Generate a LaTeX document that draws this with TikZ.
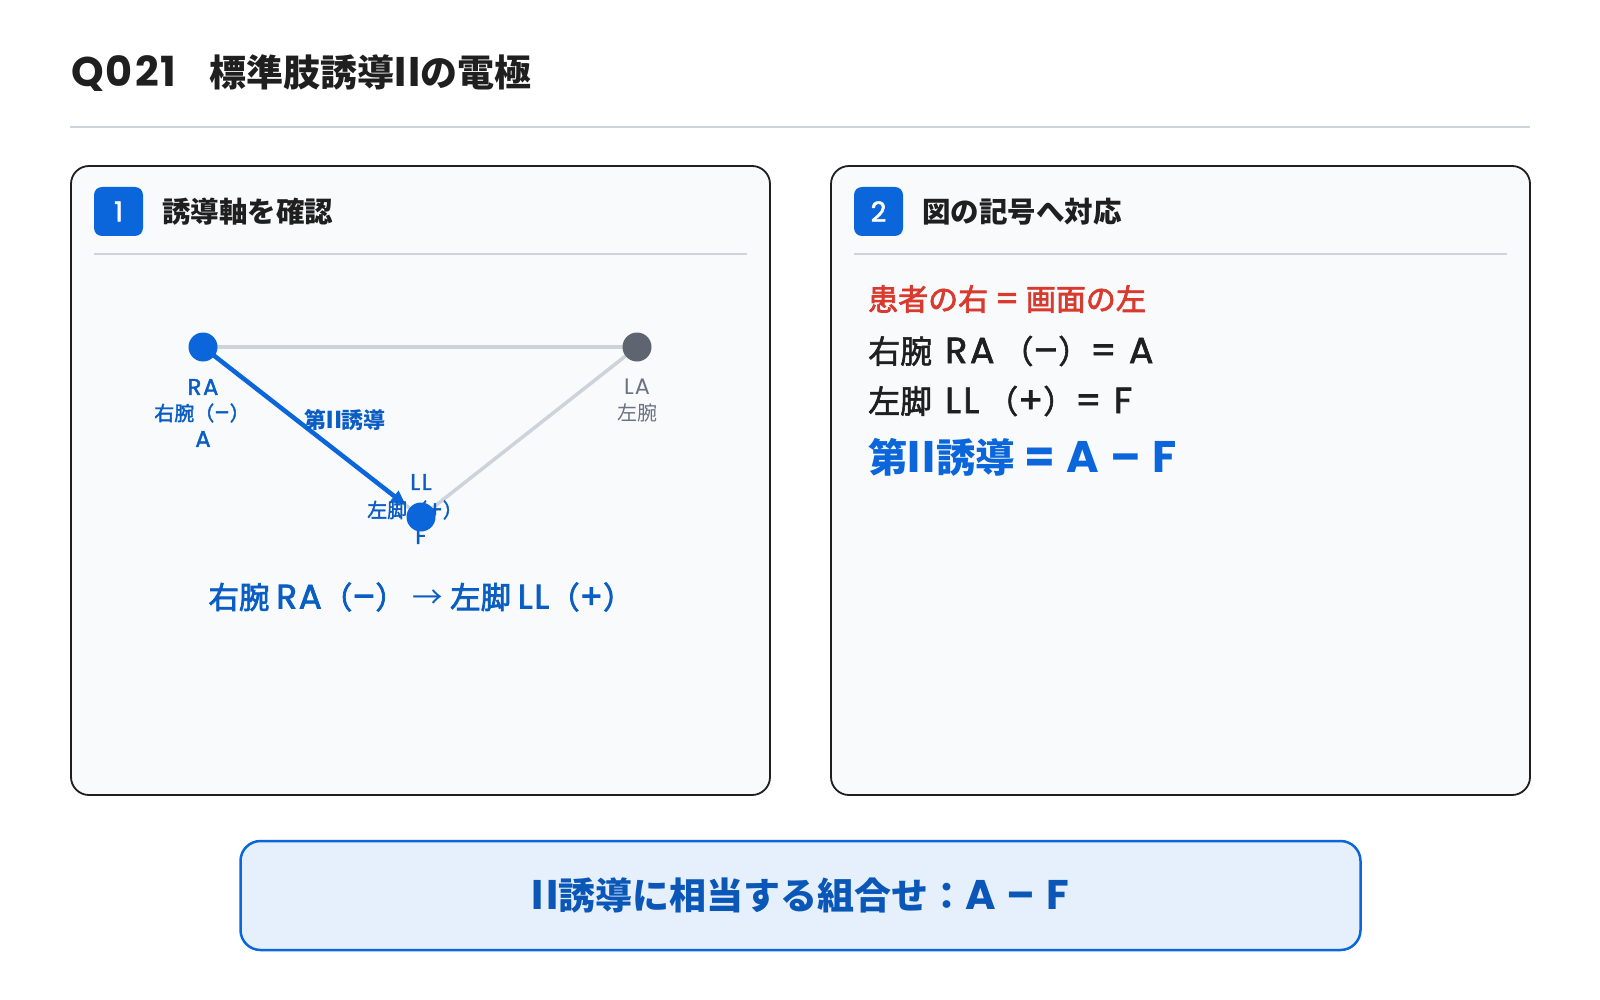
\documentclass[tikz,border=0pt]{standalone}
\usepackage{fontspec}
\setmainfont{Noto Sans CJK JP}
\newfontfamily\lat[Scale=1.12,LetterSpace=5]{Poppins}
\newfontfamily\latm[Scale=1.14,LetterSpace=7,FakeBold=1.8]{Poppins}
\newfontfamily\lats[Scale=1.12,LetterSpace=5,FakeBold=2.2]{Poppins}
\newfontfamily\jpr{Noto Sans CJK JP}
\newfontfamily\jpm[FakeBold=1.8]{Noto Sans CJK JP}
\newfontfamily\jps[FakeBold=2.4]{Noto Sans CJK JP}
\usetikzlibrary{arrows.meta}
\pgfdeclarelayer{back}
\pgfdeclarelayer{lines}
\pgfsetlayers{back,lines,main}
\definecolor{mainblue}{HTML}{0A66DA}
\definecolor{lblblue}{HTML}{0A5DC2}
\definecolor{redtxt}{HTML}{D93A2E}
\definecolor{darktxt}{HTML}{1F1F1F}
\definecolor{lightline}{HTML}{CDD3DB}
\definecolor{ladot}{HTML}{5F6570}
\definecolor{latxt}{HTML}{6B7280}
\definecolor{panelfill}{HTML}{F8FAFC}
\definecolor{sumfill}{HTML}{E6F0FD}
\definecolor{sumtxt}{HTML}{0B57B8}
\newcommand{\fs}[1]{\fontsize{#1}{#1}\selectfont}
\tikzset{
  panel/.style={draw=darktxt, line width=1.8pt, fill=panelfill, rounded corners=18pt},
  badge/.style={fill=mainblue, rounded corners=8pt, minimum width=49pt, minimum height=49pt, inner sep=0pt, text=white, font=\fs{24}\latm},
  heading/.style={anchor=west, text=darktxt, font=\fs{28.5}\bfseries, inner sep=0pt},
  divider/.style={draw=lightline, line width=1.5pt},
  edge/.style={draw=lightline, line width=3.5pt},
  electrode/.style={circle, minimum size=29pt, inner sep=0pt},
  elbl/.style={text=lblblue, font=\fs{20}\jpm, inner sep=0pt},
  lalbl/.style={text=latxt, font=\fs{20}\jpr, inner sep=0pt},
  line2/.style={anchor=west, inner sep=0pt, text=darktxt, font=\fs{32}\jpm}
}
\begin{document}
\begin{tikzpicture}[x=1pt,y=-1pt]
\begin{pgfonlayer}{back}
\useasboundingbox[fill=white] (0,0) rectangle (1600,1000);
\draw[divider] (70,127) -- (1530,127);
\path[panel] (71,166) rectangle (770,795);
\path[panel] (831,166) rectangle (1530,795);
\draw[divider] (94,254) -- (747,254);
\draw[divider] (854,254) -- (1507,254);
\end{pgfonlayer}
% title
\node[anchor=west, inner sep=0pt, text=darktxt, font=\fs{37}\bfseries] (title) at (71,73) {{\lat Q021}\hspace{-4pt}　標準肢誘導{\lat II}の電極};
% panel headers
\node[badge] (b1) at (118.5,211.5) {1};
\node[heading] (h1) at (162,212) {誘導軸を確認};
\node[badge] (b2) at (878.5,211.5) {2};
\node[heading] (h2) at (922,212) {図の記号へ対応};
% labels
\node[elbl] (raL) at (203,387) {{\latm RA}};
\node[elbl] (raJ) at (202,413) {右腕（{\latm –}）};
\node[elbl] (raA) at (203,439) {{\latm A}};
\node[lalbl] (laL) at (637,387) {{\lat LA}};
\node[lalbl] (laJ) at (637,413) {左腕};
\node[text=lblblue, font=\fs{22}\bfseries, inner sep=0pt] (lead) at (345,420) {第{\lat II}誘導};
\node[elbl] (llL) at (421,482) {{\latm LL}};
\node[elbl] (llJ) at (415,510) {左脚（{\latm +}）};
\node[elbl] (llF) at (421,536) {{\latm F}};
% electrodes
\node[electrode, fill=mainblue] (RA) at (203,347) {};
\node[electrode, fill=ladot] (LA) at (637,347) {};
\node[electrode, fill=mainblue] (LL) at (421,517) {};
\begin{pgfonlayer}{lines}
\draw[edge] (RA.center) -- (LA.center);
\draw[edge] (LA.center) -- (LL.center);
\draw[edge] (RA.center) -- (LL.center);
\draw[mainblue, line width=4.5pt, -{Triangle[length=15pt,width=13pt]}, shorten >=19pt] (RA.center) -- (LL.center);
\end{pgfonlayer}
\node[text=lblblue, font=\fs{30.5}\jps, inner sep=0pt] (flow) at (421,597) {右腕 {\lats RA}（{\lats –}） {\jpr →} 左脚 {\lats LL}（{\lats +}）};
% panel 2 text
\node[anchor=west, inner sep=0pt, text=redtxt, font=\fs{30}\jps] (t1) at (868,299) {患者の右 {\lats =} 画面の左};
\node[line2] (t2) at (868,351) {右腕\hspace{13pt}{\latm RA}\hspace{7pt}（{\latm –}）{\latm = A}};
\node[line2] (t3) at (868,401) {左脚\hspace{13pt}{\latm LL}\hspace{7pt}（{\latm +}）{\latm = F}};
\node[anchor=west, inner sep=0pt, text=mainblue, font=\fs{39.5}\bfseries] (t4) at (868,457) {第{\lat II}誘導 {\lat = A – F}};
% summary
\node[draw=mainblue, line width=2.5pt, fill=sumfill, rounded corners=20pt, minimum width=1120pt, minimum height=109pt, text=sumtxt, font=\fs{37}\bfseries] (sum) at (800.5,895.5) {{\lat II}誘導に相当する組合せ：{\lat A – F}};
\end{tikzpicture}
\end{document}
